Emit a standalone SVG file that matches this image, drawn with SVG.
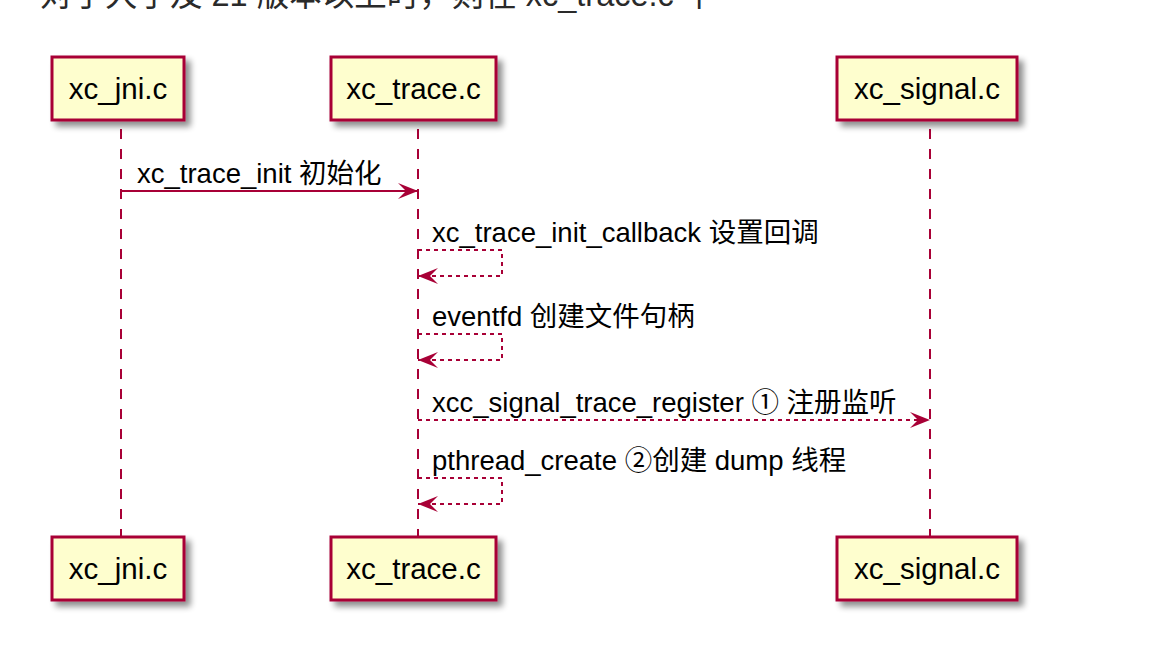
<svg xmlns="http://www.w3.org/2000/svg" width="1176" height="662" viewBox="0 0 1176 662">
<defs>
<filter id="sh" x="-20%" y="-20%" width="150%" height="160%">
<feGaussianBlur in="SourceAlpha" stdDeviation="3"/>
<feOffset dx="5" dy="5" result="b"/>
<feComponentTransfer><feFuncA type="linear" slope="0.45"/></feComponentTransfer>
<feMerge><feMergeNode/><feMergeNode in="SourceGraphic"/></feMerge>
</filter>
<marker id="ah" viewBox="0 0 20 16" refX="20" refY="8" markerWidth="20" markerHeight="16" markerUnits="userSpaceOnUse" orient="auto">
<polygon points="0,0 20,8 0,16 8,8" fill="#A80036"/>
</marker>
</defs>
<style>
.box{fill:#FEFECE;stroke:#A80036;stroke-width:3}
.pt{font-family:"Liberation Sans","Noto Sans CJK SC",sans-serif;font-size:29.5px;fill:#000;text-anchor:middle}
.life{stroke:#A80036;stroke-width:2;stroke-dasharray:10,10;fill:none}
.msg{font-family:"Liberation Sans","Noto Sans CJK SC",sans-serif;font-size:27.5px;fill:#000}
.solid{stroke:#A80036;stroke-width:2;fill:none}
.dash{stroke:#A80036;stroke-width:2;stroke-dasharray:4,4;fill:none}
.top{font-family:"Liberation Sans","Noto Sans CJK SC",sans-serif;font-size:32.5px;fill:#2a2a2a}
</style>
<rect width="1176" height="662" fill="#fff"/>
<text class="top" x="40" y="6">对于大于及 21 版本以上时，则在 xc_trace.c 中</text>

<g id="lifelines">
<line class="life" x1="121" y1="129" x2="121" y2="537"/>
<line class="life" x1="418" y1="129" x2="418" y2="537"/>
<line class="life" x1="930" y1="129" x2="930" y2="537"/>
</g>

<g id="xc_jni_top"><rect class="box" x="52" y="57" width="132" height="63" filter="url(#sh)"/><text class="pt" x="118" y="99">xc_jni.c</text></g>
<g id="xc_trace_top"><rect class="box" x="331" y="57" width="165" height="63" filter="url(#sh)"/><text class="pt" x="413.5" y="99">xc_trace.c</text></g>
<g id="xc_signal_top"><rect class="box" x="837" y="57" width="180" height="63" filter="url(#sh)"/><text class="pt" x="927" y="99">xc_signal.c</text></g>

<g id="xc_jni_bottom"><rect class="box" x="52" y="537" width="132" height="63" filter="url(#sh)"/><text class="pt" x="118" y="579">xc_jni.c</text></g>
<g id="xc_trace_bottom"><rect class="box" x="331" y="537" width="165" height="63" filter="url(#sh)"/><text class="pt" x="413.5" y="579">xc_trace.c</text></g>
<g id="xc_signal_bottom"><rect class="box" x="837" y="537" width="180" height="63" filter="url(#sh)"/><text class="pt" x="927" y="579">xc_signal.c</text></g>

<g id="connectors">
<line class="solid" x1="121" y1="191" x2="418" y2="191" marker-end="url(#ah)"/>
<text class="msg" x="137" y="183">xc_trace_init 初始化</text>

<polyline class="dash" points="418,250 502,250 502,276 418,276" marker-end="url(#ah)"/>
<text class="msg" x="432" y="242">xc_trace_init_callback 设置回调</text>

<polyline class="dash" points="418,334 502,334 502,360 418,360" marker-end="url(#ah)"/>
<text class="msg" x="432" y="326">eventfd 创建文件句柄</text>

<line class="dash" x1="418" y1="420" x2="930" y2="420" marker-end="url(#ah)"/>
<text class="msg" x="432" y="412">xcc_signal_trace_register ① 注册监听</text>

<polyline class="dash" points="418,478 502,478 502,504 418,504" marker-end="url(#ah)"/>
<text class="msg" x="432" y="470">pthread_create ②创建 dump 线程</text>
</g>
</svg>
